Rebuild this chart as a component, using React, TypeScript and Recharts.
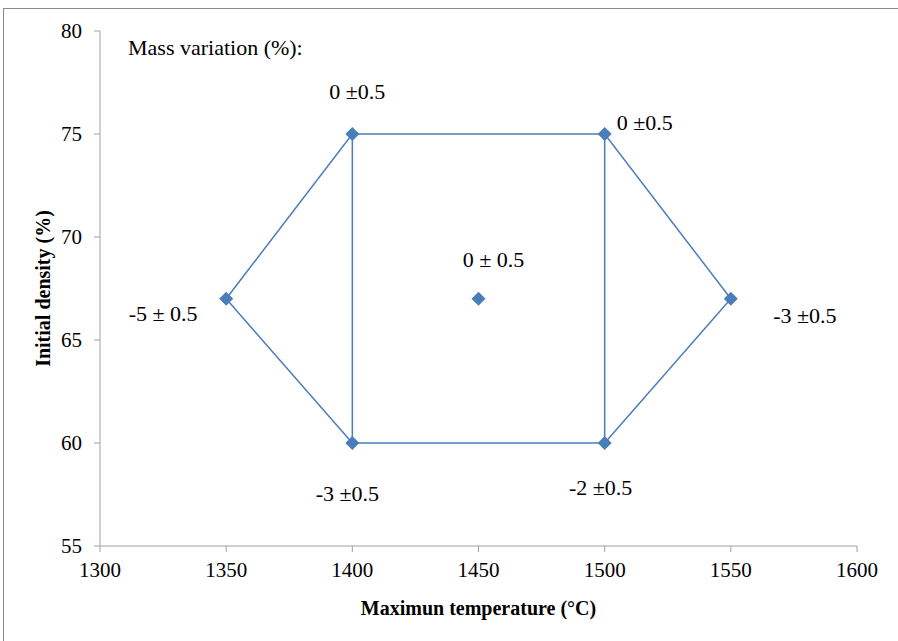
import React from 'react';
import { ScatterChart, Scatter, XAxis, YAxis, Label } from 'recharts';

const xTicks = [1300, 1350, 1400, 1450, 1500, 1550, 1600];
const yTicks = [55, 60, 65, 70, 75, 80];

// measured points: temperature, density, mass variation label
const temps = [1350, 1400, 1400, 1450, 1500, 1500, 1550];
const densities = [67, 75, 60, 67, 75, 60, 67];
const massLabels = ['-5 ± 0.5', '0 ±0.5', '-3 ±0.5', '0 ± 0.5', '0 ±0.5', '-2 ±0.5', '-3 ±0.5'];

// outline drawn through the points
const outlineTemps = [1350, 1400, 1500, 1550, 1500, 1400, 1350];
const outlineDensities = [67, 75, 75, 67, 60, 60, 67];
const leftEdgeTemps = [1400, 1400];
const leftEdgeDensities = [75, 60];
const rightEdgeTemps = [1500, 1500];
const rightEdgeDensities = [75, 60];

// label offsets (px) from each marker
const labelOffsets = [
  [-63, 15],
  [5, -43],
  [-5, 50],
  [15, -39],
  [40, -12],
  [-4, 44],
  [74, 17],
];

const BLUE = '#4a7ebb';
const AXIS = '#a0a0a0';
const FONT = '"Liberation Serif", "Times New Roman", serif';

const toPoints = (xs: number[], ys: number[], labels?: string[]) =>
  xs.map((x, i) => ({ x, y: ys[i], label: labels ? labels[i] : '' }));

const points = toPoints(temps, densities, massLabels);
const outline = toPoints(outlineTemps, outlineDensities);
const leftEdge = toPoints(leftEdgeTemps, leftEdgeDensities);
const rightEdge = toPoints(rightEdgeTemps, rightEdgeDensities);

const NoShape = () => <g />;

const DiamondLabel = (props: any) => {
  const { cx, cy, payload, index } = props;
  const r = 7;
  const [dx, dy] = labelOffsets[index] || [0, 0];
  return (
    <g>
      <polygon
        points={`${cx},${cy - r} ${cx + r},${cy} ${cx},${cy + r} ${cx - r},${cy}`}
        fill={BLUE}
      />
      <text
        x={cx + dx}
        y={cy + dy}
        textAnchor="middle"
        dominantBaseline="central"
        fontFamily={FONT}
        fontSize={22}
        fill="#000"
      >
        {payload.label}
      </text>
    </g>
  );
};

const tickStyle = { fill: '#000', fontSize: 21, fontFamily: FONT };

export default function App() {
  return (
    <div style={{ position: 'absolute', left: 0, top: 0, width: 898, height: 641, background: '#fff', overflow: 'hidden' }}>
      <div
        style={{
          position: 'absolute',
          left: 3,
          top: 8,
          width: 920,
          height: 660,
          border: '1px solid #8c8c8c',
          boxSizing: 'border-box',
        }}
      />
      <div
        style={{
          position: 'absolute',
          left: 128,
          top: 35,
          fontFamily: FONT,
          fontSize: 22,
          lineHeight: '26px',
          color: '#000',
        }}
      >
        Mass variation (%):
      </div>
      <div style={{ position: 'absolute', left: 0, top: 0 }}>
        <ScatterChart width={898} height={641} margin={{ top: 31, right: 41, bottom: 0, left: 0 }}>
          <XAxis
            type="number"
            dataKey="x"
            domain={[1300, 1600]}
            ticks={xTicks}
            height={95}
            stroke={AXIS}
            tickSize={6}
            tickMargin={10}
            tick={tickStyle}
            allowDataOverflow
          >
            <Label
              value="Maximun temperature (°C)"
              position="insideBottom"
              offset={26}
              style={{ fill: '#000', fontSize: 20, fontWeight: 'bold', fontFamily: FONT }}
            />
          </XAxis>
          <YAxis
            type="number"
            dataKey="y"
            domain={[55, 80]}
            ticks={yTicks}
            width={100}
            stroke={AXIS}
            tickSize={6}
            tickMargin={12}
            tick={tickStyle}
            allowDataOverflow
          >
            <Label
              value="Initial density (%)"
              angle={-90}
              position="insideLeft"
              offset={43}
              style={{ fill: '#000', fontSize: 20, fontWeight: 'bold', fontFamily: FONT, textAnchor: 'middle' }}
            />
          </YAxis>
          <Scatter data={outline} line={{ stroke: BLUE, strokeWidth: 1.5 }} shape={NoShape} isAnimationActive={false} />
          <Scatter data={leftEdge} line={{ stroke: BLUE, strokeWidth: 1.5 }} shape={NoShape} isAnimationActive={false} />
          <Scatter data={rightEdge} line={{ stroke: BLUE, strokeWidth: 1.5 }} shape={NoShape} isAnimationActive={false} />
          <Scatter data={points} shape={DiamondLabel} isAnimationActive={false} />
        </ScatterChart>
      </div>
    </div>
  );
}
